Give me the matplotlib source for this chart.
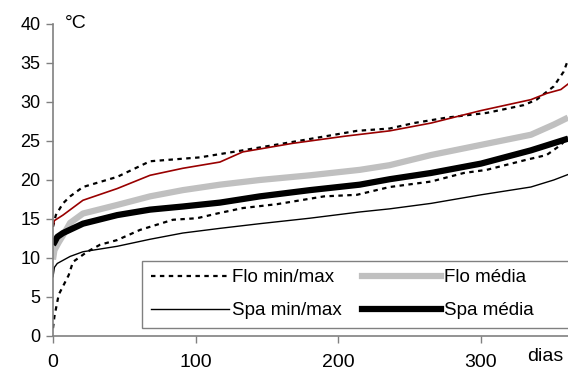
import numpy as np
import matplotlib
matplotlib.use('Agg')
import matplotlib.pyplot as plt
from matplotlib.lines import Line2D

plt.rcParams['font.family'] = ['Liberation Sans', 'DejaVu Sans']

# duration curves (days, degC)
flo_max_d = [0, 2, 7, 12, 21, 45, 68, 103, 133, 175, 213, 236, 253, 276, 304, 330, 339, 351, 358, 361]
flo_max_v = [14.0, 15.5, 17.0, 17.9, 19.1, 20.4, 22.4, 22.9, 23.8, 25.1, 26.3, 26.6, 27.3, 28.0, 28.6, 29.6, 30.3, 32.0, 33.9, 35.4]

flo_min_d = [0, 1, 4, 11, 14, 24, 33, 45, 61, 84, 101, 115, 133, 157, 190, 213, 236, 265, 288, 304, 332, 346, 356, 361]
flo_min_v = [1.0, 2.5, 5.3, 7.8, 9.5, 10.8, 11.7, 12.3, 13.6, 14.9, 15.1, 15.7, 16.4, 16.9, 17.9, 18.1, 19.1, 19.8, 20.9, 21.3, 22.6, 23.2, 24.5, 25.5]

spa_max_d = [0, 1, 7, 21, 45, 68, 91, 117, 133, 168, 204, 236, 265, 300, 335, 346, 356, 361]
spa_max_v = [14.1, 14.8, 15.5, 17.4, 18.9, 20.6, 21.5, 22.3, 23.6, 24.7, 25.6, 26.3, 27.3, 28.9, 30.3, 31.1, 31.6, 32.3]

spa_min_d = [0, 1, 3, 12, 21, 45, 68, 91, 117, 145, 180, 215, 236, 265, 300, 335, 351, 361]
spa_min_v = [7.6, 8.8, 9.3, 10.2, 10.8, 11.5, 12.4, 13.2, 13.8, 14.4, 15.1, 15.9, 16.3, 17.0, 18.1, 19.1, 20.0, 20.7]

flo_med_d = [0, 1, 4, 7, 12, 21, 45, 68, 91, 117, 145, 180, 215, 236, 265, 300, 335, 351, 361]
flo_med_v = [9.8, 11.0, 12.0, 12.9, 14.5, 15.7, 16.8, 17.9, 18.7, 19.4, 20.0, 20.6, 21.3, 21.9, 23.2, 24.5, 25.8, 27.1, 28.0]

spa_med_d = [0, 1, 3, 7, 21, 45, 68, 91, 117, 145, 180, 215, 236, 265, 300, 335, 361]
spa_med_v = [11.7, 12.0, 12.7, 13.2, 14.4, 15.5, 16.2, 16.6, 17.1, 17.9, 18.7, 19.4, 20.1, 20.9, 22.1, 23.8, 25.3]

x_ticks = [0, 100, 200, 300]
y_ticks = [0, 5, 10, 15, 20, 25, 30, 35, 40]

dots = (0, (2, 2))
axis_grey = '#808080'

fig = plt.figure(figsize=(5.68, 3.76), dpi=100)
ax = fig.add_axes([0.0933, 0.1064, 0.9067, 0.8298])

ax.plot(flo_max_d, flo_max_v, color='black', lw=1.6, ls=dots)
ax.plot(flo_min_d, flo_min_v, color='black', lw=1.6, ls=dots)
ax.plot(spa_max_d, spa_max_v, color='#990000', lw=1.2)
ax.plot(spa_min_d, spa_min_v, color='black', lw=1.0)
ax.plot(flo_med_d, flo_med_v, color='#c0c0c0', lw=4.5, solid_capstyle='butt')
ax.plot(spa_med_d, spa_med_v, color='black', lw=4.5, solid_capstyle='butt')

ax.set_xlim(0, 361)
ax.set_ylim(0, 40)
ax.set_xticks(x_ticks)
ax.set_yticks(y_ticks)
ax.tick_params(axis='both', colors=axis_grey, labelcolor='black', length=5, width=1, direction='out')
ax.tick_params(axis='x', pad=8, labelsize=14)
ax.tick_params(axis='y', pad=4, labelsize=13)
for s in ['top', 'right']:
    ax.spines[s].set_visible(False)
for s in ['left', 'bottom']:
    ax.spines[s].set_color(axis_grey)
    ax.spines[s].set_linewidth(1.2)

ax.text(0.023, 1.0, '°C', transform=ax.transAxes, fontsize=14, va='center', ha='left')
ax.text(0.92, -0.065, 'dias', transform=ax.transAxes, fontsize=14, va='center', ha='left')

handles = [
    Line2D([], [], color='black', lw=1.6, ls=dots),
    Line2D([], [], color='black', lw=1.0),
    Line2D([], [], color='#c0c0c0', lw=4.5),
    Line2D([], [], color='black', lw=4.5),
]
# trailing spaces push the legend frame past the right edge, as in the original
labels = ['Flo min/max', 'Spa min/max', 'Flo média      ', 'Spa média      ']
leg = ax.legend(handles, labels, ncol=2, loc='lower left', bbox_to_anchor=(0.173, 0.026),
                borderaxespad=0, fontsize=13.5, handlelength=4.2, handletextpad=0.15,
                columnspacing=1.1, labelspacing=0.85, borderpad=0.45, fancybox=False,
                framealpha=1)
leg.get_frame().set_edgecolor(axis_grey)
leg.get_frame().set_linewidth(1.0)

fig.savefig('out.png', dpi=100)
